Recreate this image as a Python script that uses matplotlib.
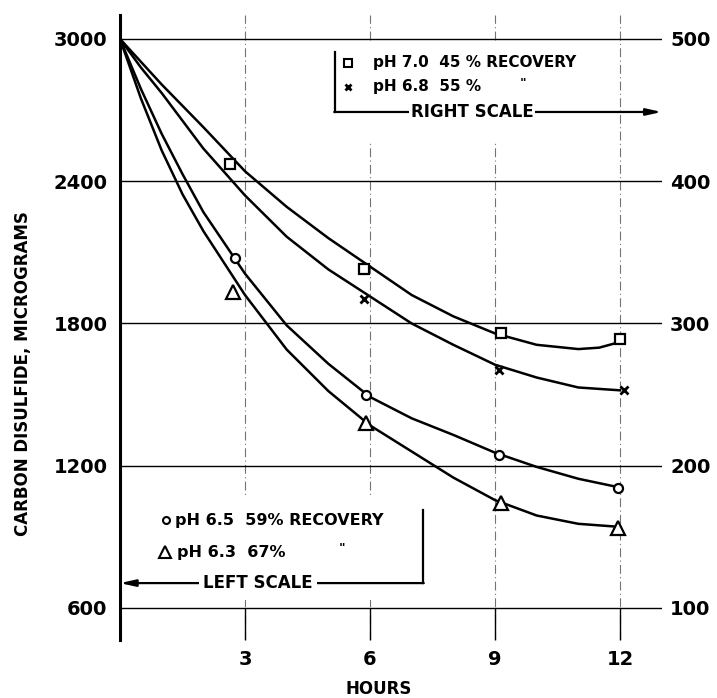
import matplotlib.pyplot as plt
import matplotlib.patches as mpatches

plt.rcParams['font.family'] = ['DejaVu Sans']
plt.rcParams['font.weight'] = 'bold'

# curves (hours, value)
curve_hrs_70 = [0, 0.5, 1, 2, 3, 4, 5, 6, 7, 8, 9, 10, 11, 11.5, 12]
curve_ph70 = [500, 484, 468, 438, 407, 382, 360, 340, 320, 305, 293, 285, 282, 283, 287]      # right scale
curve_hrs_68 = [0, 0.5, 1, 2, 3, 4, 5, 6, 7, 8, 9, 10, 11, 12]
curve_ph68 = [500, 480, 462, 423, 390, 361, 338, 319, 300, 285, 271, 262, 255, 253]             # right scale
curve_hrs = [0, 0.5, 1, 1.5, 2, 3, 4, 5, 6, 7, 8, 9, 10, 11, 12]
curve_ph65 = [3000, 2790, 2600, 2430, 2270, 2010, 1792, 1630, 1490, 1400, 1330, 1255, 1195, 1145, 1108]  # left scale
curve_ph63 = [3000, 2750, 2530, 2345, 2190, 1920, 1690, 1515, 1370, 1260, 1150, 1055, 990, 955, 942]    # left scale

# measured points
ph70_hrs = [2.65, 5.85, 9.15, 12.0]
ph70_vals = [412, 338, 293, 289]
ph68_hrs = [5.85, 9.1, 12.1]
ph68_vals = [317, 267, 253]
ph65_hrs = [2.75, 5.9, 9.1, 11.95]
ph65_vals = [2077, 1498, 1245, 1105]
ph63_hrs = [2.7, 5.9, 9.15, 11.95]
ph63_vals = [1934, 1379, 1044, 939]

hour_ticks = [3, 6, 9, 12]
left_ticks = [600, 1200, 1800, 2400, 3000]
right_ticks = [100, 200, 300, 400, 500]

fig = plt.figure(figsize=(7.17, 6.98), dpi=100)
ax = fig.add_axes([120 / 717, 1 - 640 / 698, 541.7 / 717, 625 / 698])
ax.set_xlim(0, 13)
ax.set_ylim(465, 3101)
ax2 = ax.twinx()
ax2.set_ylim(465 / 6, 3101 / 6)

for s in ['top', 'right', 'bottom']:
    ax.spines[s].set_visible(False)
ax.spines['left'].set_linewidth(2.2)
for s in ax2.spines.values():
    s.set_visible(False)

ax.set_xticks(hour_ticks)
ax.set_yticks(left_ticks)
ax2.set_yticks(right_ticks)
ax.tick_params(axis='x', direction='in', length=23, width=1, pad=7, labelsize=14)
ax.tick_params(axis='y', length=0, pad=9, labelsize=14)
ax2.tick_params(axis='y', length=0, pad=6, labelsize=14)

ax.set_axisbelow(True)
ax.grid(axis='y', color='black', lw=1.0)
ax.grid(axis='x', color='0.45', lw=0.8, ls=(0, (8, 3, 1, 3)))

# white masks where the hand-drawn grid is broken by the key boxes
ax.add_patch(mpatches.Rectangle((5.18, 2561), 6.3, 426, facecolor='white', edgecolor='none', zorder=1))
ax.add_patch(mpatches.Rectangle((0.72, 634), 6.5, 434, facecolor='white', edgecolor='none', zorder=1))

# curves
ax2.plot(curve_hrs_70, curve_ph70, color='black', lw=1.8)
ax2.plot(curve_hrs_68, curve_ph68, color='black', lw=1.8)
ax.plot(curve_hrs, curve_ph65, color='black', lw=1.8, zorder=3)
ax.plot(curve_hrs, curve_ph63, color='black', lw=1.8, zorder=3)

ax2.plot(ph70_hrs, ph70_vals, ls='none', marker='s', ms=6.5, mfc='white', mec='black', mew=1.6)
ax2.plot(ph68_hrs, ph68_vals, ls='none', marker='x', ms=6, mec='black', mew=2)
ax.plot(ph65_hrs, ph65_vals, ls='none', marker='o', ms=6.5, mfc='white', mec='black', mew=1.6, zorder=4)
ax.plot(ph63_hrs, ph63_vals, ls='none', marker='^', ms=10, mfc='white', mec='black', mew=1.6, zorder=4)

# key, right scale
ax.plot([5.16, 5.16], [2945, 2692], color='black', lw=1.6, zorder=3)
ax.annotate('', xy=(13.0, 2692), xytext=(5.14, 2692),
            arrowprops=dict(arrowstyle='-|>,head_length=0.9,head_width=0.2', lw=1.6, color='black',
                            shrinkA=0, shrinkB=0), zorder=3)
ax.text(8.45, 2692, 'RIGHT SCALE', ha='center', va='center', fontsize=12, zorder=4,
        bbox=dict(facecolor='white', edgecolor='none', pad=1))
ax.plot([5.47], [2899], marker='s', ms=5.5, mfc='white', mec='black', mew=1.5, zorder=4)
ax.plot([5.47], [2798], marker='x', ms=5, mec='black', mew=2, zorder=4)
ax.text(6.07, 2899, 'pH 7.0  45 % RECOVERY', ha='left', va='center', fontsize=11, zorder=4)
ax.text(6.07, 2798, 'pH 6.8  55 %', ha='left', va='center', fontsize=11, zorder=4)
ax.text(9.67, 2810, '"', ha='center', va='center', fontsize=9, zorder=4)

# key, left scale
ax.plot([7.27, 7.27], [1013, 705], color='black', lw=1.6, zorder=3)
ax.annotate('', xy=(0.0, 705), xytext=(7.29, 705),
            arrowprops=dict(arrowstyle='-|>,head_length=0.9,head_width=0.2', lw=1.6, color='black',
                            shrinkA=0, shrinkB=0), zorder=3)
ax.text(3.31, 705, 'LEFT SCALE', ha='center', va='center', fontsize=12, zorder=4,
        bbox=dict(facecolor='white', edgecolor='none', pad=3))
ax.plot([1.1], [971], marker='o', ms=5, mfc='white', mec='black', mew=1.5, zorder=4)
ax.plot([1.08], [836], marker='^', ms=8.5, mfc='white', mec='black', mew=1.5, zorder=4)
ax.text(1.33, 971, 'pH 6.5  59% RECOVERY', ha='left', va='center', fontsize=11.5, zorder=4)
ax.text(1.37, 836, 'pH 6.3  67%', ha='left', va='center', fontsize=11.5, zorder=4)
ax.text(5.33, 853, '"', ha='center', va='center', fontsize=9, zorder=4)

fig.text(23 / 717, 1 - 374 / 698, 'CARBON DISULFIDE, MICROGRAMS', rotation=90,
         ha='center', va='center', fontsize=12)
fig.text(379 / 717, 1 - 689 / 698, 'HOURS', ha='center', va='center', fontsize=12)

fig.savefig('out.png', dpi=100)
